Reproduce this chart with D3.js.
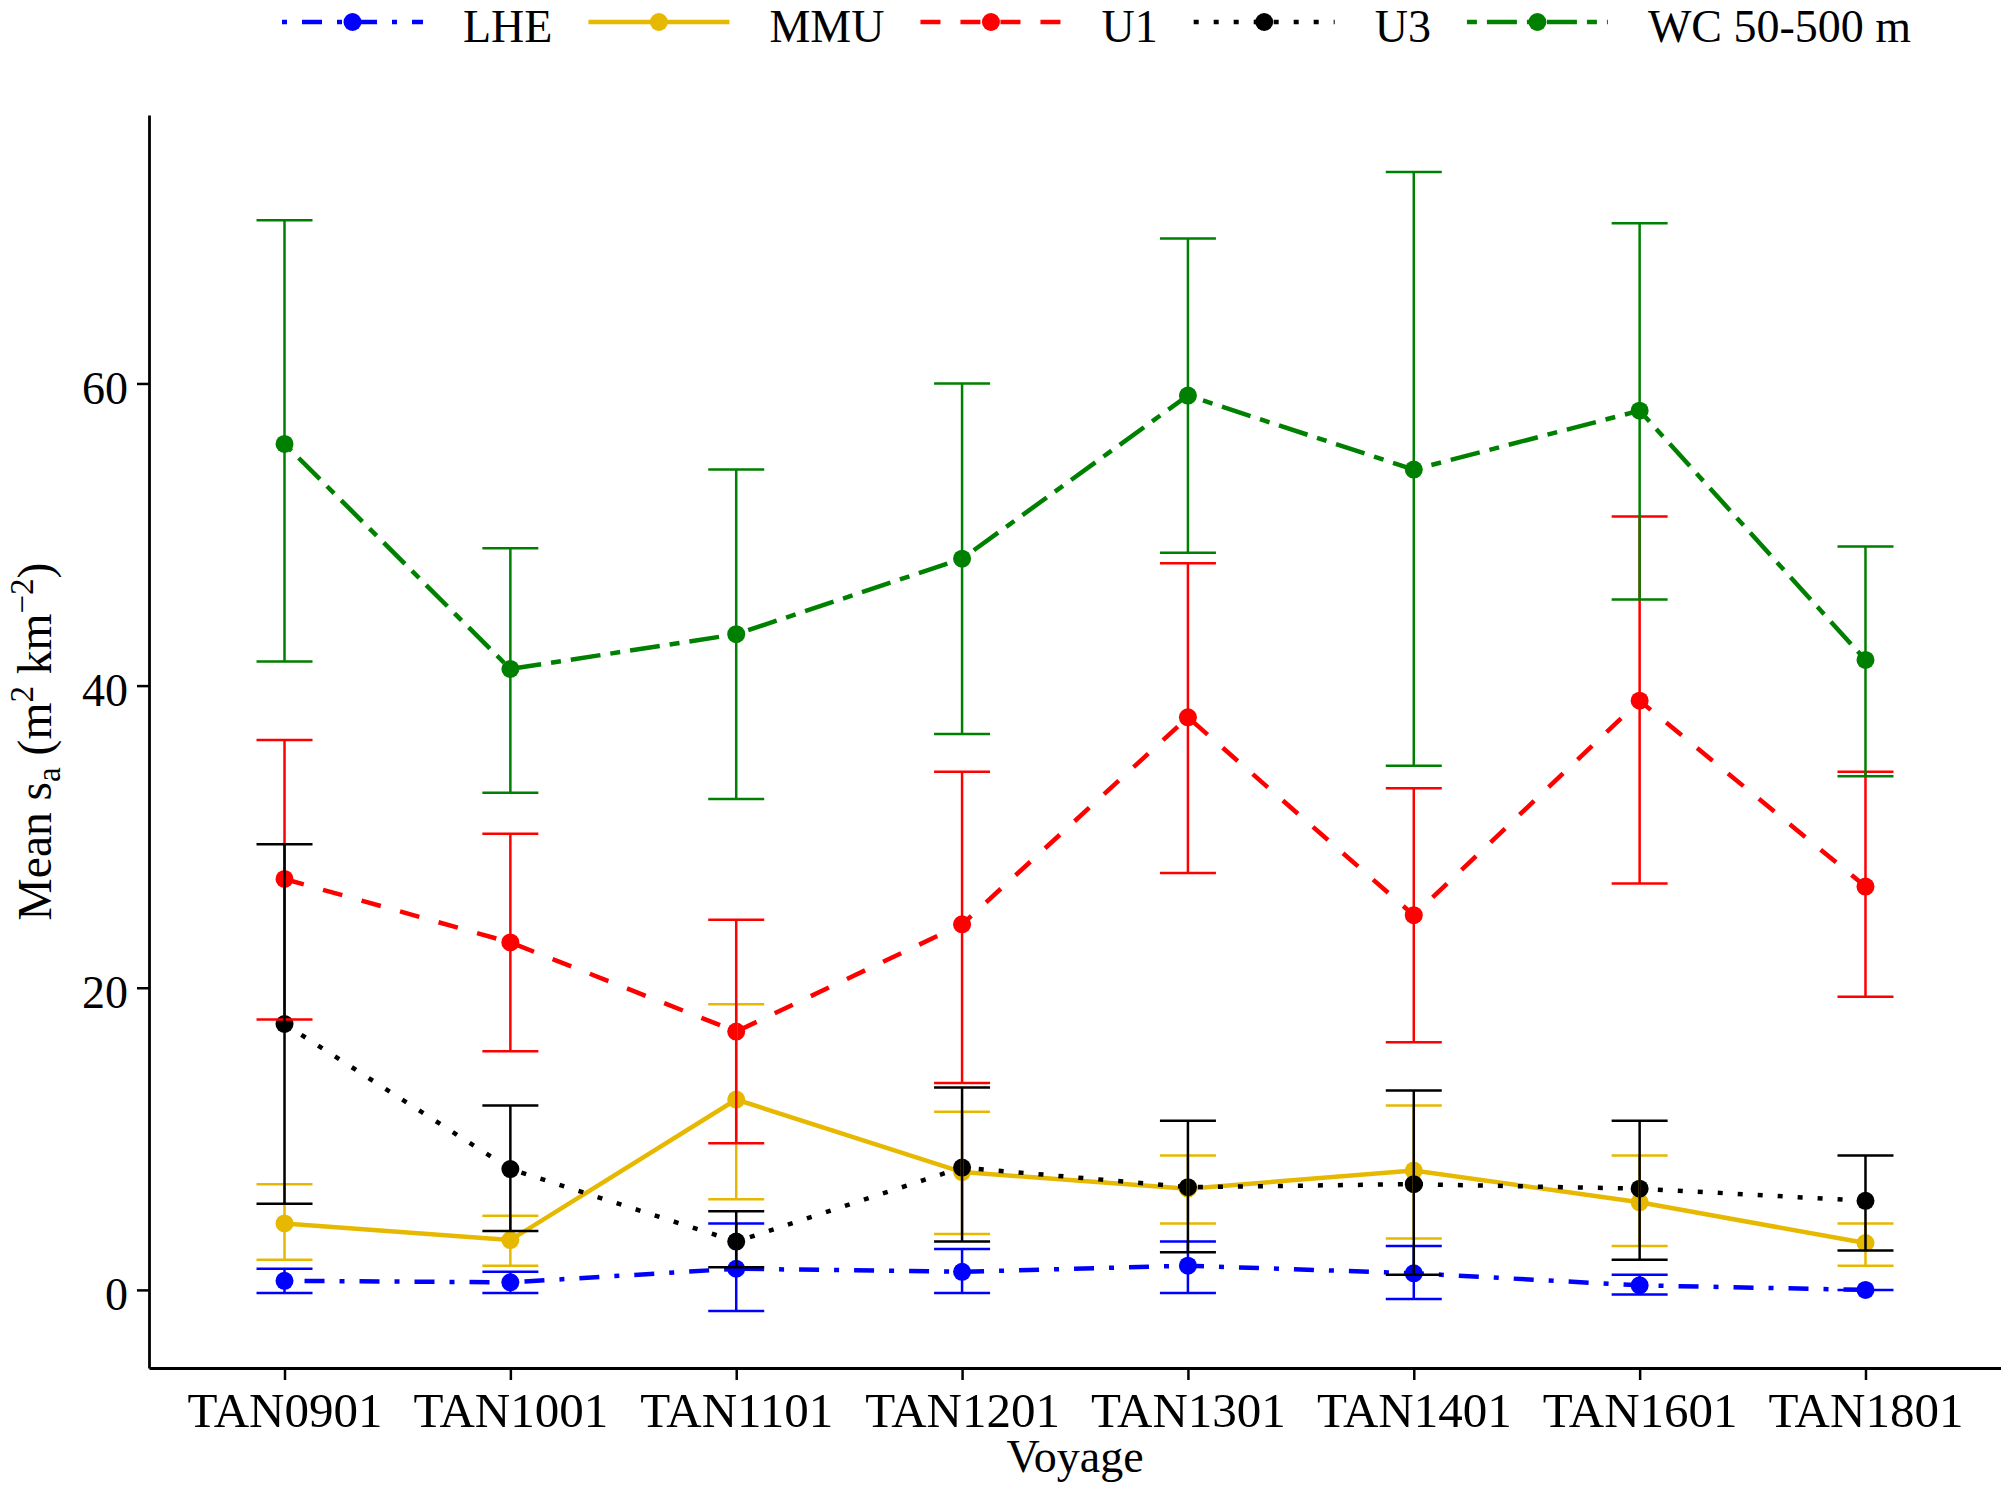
<!DOCTYPE html>
<html>
<head>
<meta charset="utf-8">
<script src="https://cdn.jsdelivr.net/npm/d3@7"></script>
<style>
  body { margin: 0; background: #fff; }
  text { font-family: "Liberation Serif", "Times New Roman", serif; fill: #000; }
</style>
</head>
<body>
<div id="chart"></div>
<script>
// voyages on the x axis
const voyages = ["TAN0901", "TAN1001", "TAN1101", "TAN1201", "TAN1301", "TAN1401", "TAN1601", "TAN1801"];

// mean s_a and error bar limits
const lheMean = [0.6, 0.5, 1.4, 1.2, 1.6, 1.1, 0.3, 0.0];
const lheLow  = [-0.2, -0.2, -1.4, -0.2, -0.2, -0.6, -0.3, 0.0];
const lheHigh = [1.4, 1.2, 4.4, 2.7, 3.2, 2.9, 1.0, 0.0];

const mmuMean = [4.4, 3.3, 12.6, 7.8, 6.7, 7.9, 5.8, 3.1];
const mmuLow  = [2.0, 1.6, 6.0, 3.7, 4.4, 3.4, 2.9, 1.6];
const mmuHigh = [7.0, 4.9, 18.9, 11.8, 8.9, 12.2, 8.9, 4.4];

const u1Mean = [27.2, 23.0, 17.1, 24.2, 37.9, 24.8, 39.0, 26.7];
const u1Low  = [17.9, 15.8, 9.7, 13.7, 27.6, 16.4, 26.9, 19.4];
const u1High = [36.4, 30.2, 24.5, 34.3, 48.1, 33.2, 51.2, 34.3];

const u3Mean = [17.6, 8.0, 3.2, 8.1, 6.8, 7.0, 6.7, 5.9];
const u3Low  = [5.7, 3.9, 1.5, 3.2, 2.5, 1.0, 2.0, 2.6];
const u3High = [29.5, 12.2, 5.2, 13.4, 11.2, 13.2, 11.2, 8.9];

const wcMean = [56.0, 41.1, 43.4, 48.4, 59.2, 54.3, 58.2, 41.7];
const wcLow  = [41.6, 32.9, 32.5, 36.8, 48.8, 34.7, 45.7, 34.0];
const wcHigh = [70.8, 49.1, 54.3, 60.0, 69.6, 74.0, 70.6, 49.2];

const seriesNames = ["LHE", "MMU", "U1", "U3", "WC 50-500 m"];
const yTicks = [0, 20, 40, 60];

window.onload = () => {
  buildChart();
};

function buildChart() {
  const series = [
    { name: seriesNames[0], mean: lheMean, low: lheLow, high: lheHigh, color: "#0000FF", dash: "5 15 20 15" },
    { name: seriesNames[1], mean: mmuMean, low: mmuLow, high: mmuHigh, color: "#E7B800", dash: null },
    { name: seriesNames[2], mean: u1Mean, low: u1Low, high: u1High, color: "#FF0000", dash: "20 20" },
    { name: seriesNames[3], mean: u3Mean, low: u3Low, high: u3High, color: "#000000", dash: "5 15" },
    { name: seriesNames[4], mean: wcMean, low: wcLow, high: wcHigh, color: "#008000", dash: "10 10 30 10" }
  ];

  const width = 2001, height = 1488;
  const plot = { left: 149, right: 2001, top: 115, bottom: 1368 };
  const lineW = 4.5, barW = 2.5, capW = 56, r = 9, fontSize = 46;

  const svg = d3.select("#chart")
    .append("svg")
    .attr("width", width)
    .attr("height", height);

  const x = d3.scalePoint()
    .domain(voyages)
    .range([plot.left, plot.right])
    .padding(0.6);

  // ggplot style 5% expansion of the data range
  const allVals = series.flatMap(s => s.low.concat(s.high, s.mean));
  const lo = d3.min(allVals), hi = d3.max(allVals);
  const pad = (hi - lo) * 0.05;
  const y = d3.scaleLinear()
    .domain([lo - pad, hi + pad])
    .range([plot.bottom, plot.top]);

  // axes
  const yAxis = svg.append("g")
    .attr("transform", `translate(${plot.left},0)`)
    .call(d3.axisLeft(y).tickValues(yTicks).tickSize(12).tickSizeOuter(0).tickPadding(9));
  const xAxis = svg.append("g")
    .attr("transform", `translate(0,${plot.bottom})`)
    .call(d3.axisBottom(x).tickSize(12).tickSizeOuter(0).tickPadding(12));

  [yAxis, xAxis].forEach(g => {
    g.select(".domain").attr("stroke", "#000").attr("stroke-width", 2.8);
    g.selectAll(".tick line").attr("stroke", "#000").attr("stroke-width", 2.5);
    g.selectAll(".tick text")
      .attr("font-family", "'Liberation Serif', 'Times New Roman', serif")
      .attr("font-size", fontSize)
      .attr("fill", "#000");
  });
  yAxis.selectAll(".tick text").attr("dy", "0.43em");
  xAxis.selectAll(".tick text").attr("font-size", 49);

  // lines
  const line = d3.line()
    .x((d, i) => x(voyages[i]))
    .y(d => y(d));

  svg.append("g")
    .selectAll("path")
    .data(series)
    .join("path")
    .attr("d", s => line(s.mean))
    .attr("fill", "none")
    .attr("stroke", s => s.color)
    .attr("stroke-width", lineW)
    .attr("stroke-dasharray", s => s.dash);

  // points
  svg.append("g")
    .selectAll("g")
    .data(series)
    .join("g")
    .attr("fill", s => s.color)
    .selectAll("circle")
    .data(s => s.mean)
    .join("circle")
    .attr("cx", (d, i) => x(voyages[i]))
    .attr("cy", d => y(d))
    .attr("r", r);

  // error bars
  svg.append("g")
    .selectAll("g")
    .data(series)
    .join("g")
    .attr("stroke", s => s.color)
    .attr("stroke-width", barW)
    .attr("fill", "none")
    .selectAll("path")
    .data(s => s.mean.map((m, i) => ({ v: voyages[i], low: s.low[i], high: s.high[i] })))
    .join("path")
    .attr("d", d => {
      const cx = x(d.v), y0 = y(d.low), y1 = y(d.high), h = capW / 2;
      return `M${cx - h},${y1}H${cx + h}M${cx},${y1}V${y0}M${cx - h},${y0}H${cx + h}`;
    });

  // axis titles
  svg.append("text")
    .attr("x", (plot.left + plot.right) / 2)
    .attr("y", 1472)
    .attr("text-anchor", "middle")
    .attr("font-size", fontSize)
    .text("Voyage");

  const yTitle = svg.append("text")
    .attr("transform", `translate(51,${(plot.top + plot.bottom) / 2}) rotate(-90)`)
    .attr("text-anchor", "middle")
    .attr("font-size", 47.5);
  yTitle.append("tspan").text("Mean s");
  yTitle.append("tspan").attr("font-size", 33).attr("dy", 9).text("a");
  yTitle.append("tspan").attr("dy", -9).text(" (m");
  yTitle.append("tspan").attr("font-size", 33).attr("dy", -18).text("2");
  yTitle.append("tspan").attr("dy", 18).text(" km");
  yTitle.append("tspan").attr("font-size", 33).attr("dy", -18).text("\u22122");
  yTitle.append("tspan").attr("dy", 18).text(")");

  // legend along the top edge
  const legend = svg.append("g");
  const keyW = 141, keyY = 22;
  let kx = 282;
  series.forEach(s => {
    const item = legend.append("g");
    item.append("line")
      .attr("x1", kx).attr("x2", kx + keyW)
      .attr("y1", keyY).attr("y2", keyY)
      .attr("stroke", s.color)
      .attr("stroke-width", lineW)
      .attr("stroke-dasharray", s.dash);
    item.append("circle")
      .attr("cx", kx + keyW / 2)
      .attr("cy", keyY)
      .attr("r", r)
      .attr("fill", s.color);
    const t = item.append("text")
      .attr("x", kx + 181)
      .attr("y", 42)
      .attr("font-size", fontSize)
      .text(s.name);
    kx = kx + 181 + t.node().getComputedTextLength() + 36;
  });
}
</script>
</body>
</html>
